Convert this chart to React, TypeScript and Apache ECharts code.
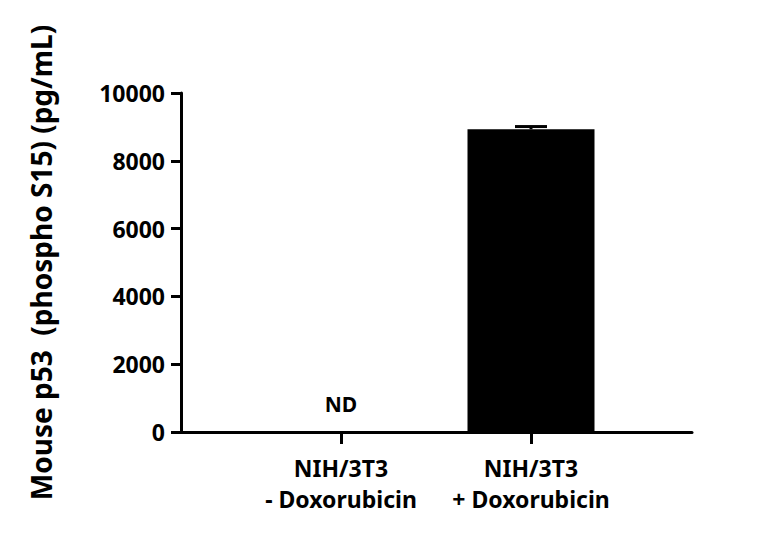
import React, { useEffect, useRef } from 'react';
import * as echarts from 'echarts';

// chart data
const categories = ['NIH/3T3\n- Doxorubicin', 'NIH/3T3\n+ Doxorubicin'];
const means = [0, 8930];
const upper = [null, 9010];
const barLabels = ['ND', ''];
const yMin = 0;
const yMax = 10000;
const yInterval = 2000;
const yName = 'Mouse p53  (phospho S15) (pg/mL)';

const FONT = '"Noto Sans", sans-serif';

const App: React.FC = () => {
  const chartRef = useRef<HTMLDivElement | null>(null);

  useEffect(() => {
    if (!chartRef.current) return;
    const chart = echarts.init(chartRef.current, undefined, { renderer: 'svg' });

    const errData = upper
      .map((u, i) => (u == null ? null : [i, means[i], u]))
      .filter((d) => d != null) as number[][];

    const option: echarts.EChartsOption = {
      animation: false,
      backgroundColor: '#fff',
      grid: [
        { left: 181, right: 76, top: 93, bottom: 105 },
        { left: 246, right: 142, top: 93, bottom: 105 },
      ],
      xAxis: [
        {
          gridIndex: 0,
          type: 'category',
          data: ['a'],
          axisLine: { lineStyle: { color: '#000', width: 3 } },
          axisTick: { show: false },
          axisLabel: { show: false },
        },
        {
          gridIndex: 1,
          type: 'category',
          data: categories,
          axisLine: { show: false },
          axisTick: { show: true, alignWithLabel: true, length: 12, lineStyle: { color: '#000', width: 3 } },
          axisLabel: {
            interval: 0,
            color: '#000',
            fontFamily: FONT,
            fontWeight: 'bold',
            fontSize: 23,
            lineHeight: 31,
            margin: 20,
          },
        },
      ],
      yAxis: [
        {
          gridIndex: 0,
          type: 'value',
          min: yMin,
          max: yMax,
          interval: yInterval,
          name: yName,
          nameLocation: 'middle',
          nameGap: 126,
          nameTextStyle: {
            color: '#000',
            fontFamily: FONT,
            fontWeight: 'bold',
            fontSize: 28,
          },
          axisLine: { show: true, lineStyle: { color: '#000', width: 3 } },
          axisTick: { show: true, length: 10, lineStyle: { color: '#000', width: 3 } },
          splitLine: { show: false },
          axisLabel: {
            formatter: (v: number) => String(v),
            color: '#000',
            fontFamily: FONT,
            fontWeight: 'bold',
            fontSize: 23,
            margin: 16,
          },
        },
        {
          gridIndex: 1,
          type: 'value',
          min: yMin,
          max: yMax,
          interval: yInterval,
          show: false,
        },
      ],
      series: [
        {
          type: 'bar',
          xAxisIndex: 1,
          yAxisIndex: 1,
          barWidth: 127,
          itemStyle: { color: '#000' },
          data: means.map((v, i) => ({
            value: v,
            label: {
              show: barLabels[i] !== '',
              formatter: barLabels[i],
              position: 'top',
              distance: 18,
              color: '#000',
              fontFamily: FONT,
              fontWeight: 'bold',
              fontSize: 21,
            },
          })),
        },
        {
          type: 'custom',
          xAxisIndex: 1,
          yAxisIndex: 1,
          data: errData,
          renderItem: (params: any, api: any) => {
            const x = api.value(0);
            const base = api.coord([x, api.value(1)]);
            const top = api.coord([x, api.value(2)]);
            const half = 16;
            return {
              type: 'group',
              children: [
                {
                  type: 'line',
                  shape: { x1: base[0], y1: base[1], x2: top[0], y2: top[1] },
                  style: { stroke: '#000', lineWidth: 3 },
                },
                {
                  type: 'line',
                  shape: { x1: top[0] - half, y1: top[1], x2: top[0] + half, y2: top[1] },
                  style: { stroke: '#000', lineWidth: 3 },
                },
              ],
            };
          },
        },
      ],
    };

    chart.setOption(option);
    return () => {
      chart.dispose();
    };
  }, []);

  return (
    <div
      ref={chartRef}
      style={{ position: 'fixed', left: 0, top: 0, width: '768px', height: '537px' }}
    />
  );
};

export default App;
